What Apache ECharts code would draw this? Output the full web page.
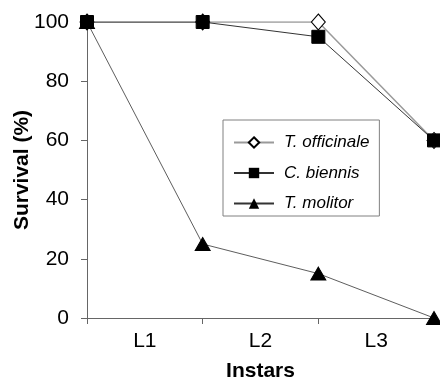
<!DOCTYPE html>
<html><head><meta charset="utf-8">
<script src="https://cdn.jsdelivr.net/npm/echarts@6/dist/echarts.min.js"></script>
<style>html,body{margin:0;padding:0;background:#fff}#c{width:440px;height:381px}</style>
</head><body><div id="c"></div>
<script>
var stages = ['L1', 'L2', 'L3'];
var xPoints = [0, 1, 2, 3];
var officinale = [100, 100, 100, 60];
var biennis = [100, 100, 95, 60];
var molitor = [100, 25, 15, 0];
var yTicks = [0, 20, 40, 60, 80, 100];

function pts(v) { return v.map(function (y, i) { return [xPoints[i], y]; }); }
var font = '"Liberation Sans", Arial, sans-serif';
var chart = echarts.init(document.getElementById('c'), null, {renderer: 'canvas'});
chart.setOption({
  animation: false,
  grid: {left: 87, right: 6, top: 22, bottom: 63, containLabel: false, outerBoundsMode: 'none'},
  legend: {
    orient: 'vertical', left: 223, top: 120,
    padding: [14, 10, 4, 10], itemGap: 13.5,
    itemWidth: 40, itemHeight: 13,
    borderColor: '#808080', borderWidth: 1,
    textStyle: {fontFamily: font, fontSize: 17, fontStyle: 'italic', color: '#000', padding: [0, 0, 0, 5]},
    data: ['T. officinale', 'C. biennis', 'T. molitor']
  },
  xAxis: [{
    type: 'value', min: 0, max: 3, interval: 1,
    axisLine: {lineStyle: {color: '#666', width: 1}},
    axisTick: {show: true, length: 6, lineStyle: {color: '#666'}},
    axisLabel: {show: false}, splitLine: {show: false},
    name: 'Instars', nameLocation: 'middle', nameGap: 43,
    nameTextStyle: {fontFamily: font, fontSize: 21, fontWeight: 'bold', color: '#000'}
  }, {
    type: 'category', data: stages, boundaryGap: true, position: 'bottom',
    axisLine: {show: false}, axisTick: {show: false},
    axisLabel: {fontFamily: font, fontSize: 21, color: '#000', margin: 13}
  }],
  yAxis: {
    type: 'value', min: 0, max: 100, interval: 20,
    axisLine: {show: true, lineStyle: {color: '#666', width: 1}},
    axisTick: {show: true, length: 6, lineStyle: {color: '#666'}},
    axisLabel: {fontFamily: font, fontSize: 21, color: '#000', margin: 18,
      formatter: function (v) { return yTicks.indexOf(v) >= 0 ? String(v) : ''; }},
    splitLine: {show: false},
    name: 'Survival (%)', nameLocation: 'middle', nameGap: 54, nameMoveOverlap: false,
    nameTextStyle: {fontFamily: font, fontSize: 21, fontWeight: 'bold', color: '#000'}
  },
  series: [{
    name: 'T. officinale', type: 'line', data: pts(officinale),
    symbol: 'diamond', symbolSize: [14, 16],
    lineStyle: {color: '#9a9a9a', width: 1.5},
    itemStyle: {color: '#fff', borderColor: '#000', borderWidth: 1},
    z: 2
  }, {
    name: 'C. biennis', type: 'line', data: pts(biennis),
    symbol: 'rect', symbolSize: 13,
    lineStyle: {color: '#333', width: 1},
    itemStyle: {color: '#000', borderColor: '#000'},
    z: 3
  }, {
    name: 'T. molitor', type: 'line', data: pts(molitor),
    symbol: 'triangle', symbolSize: [15, 13],
    lineStyle: {color: '#333', width: 0.8},
    itemStyle: {color: '#000', borderColor: '#000'},
    z: 3
  }]
});
</script></body></html>
